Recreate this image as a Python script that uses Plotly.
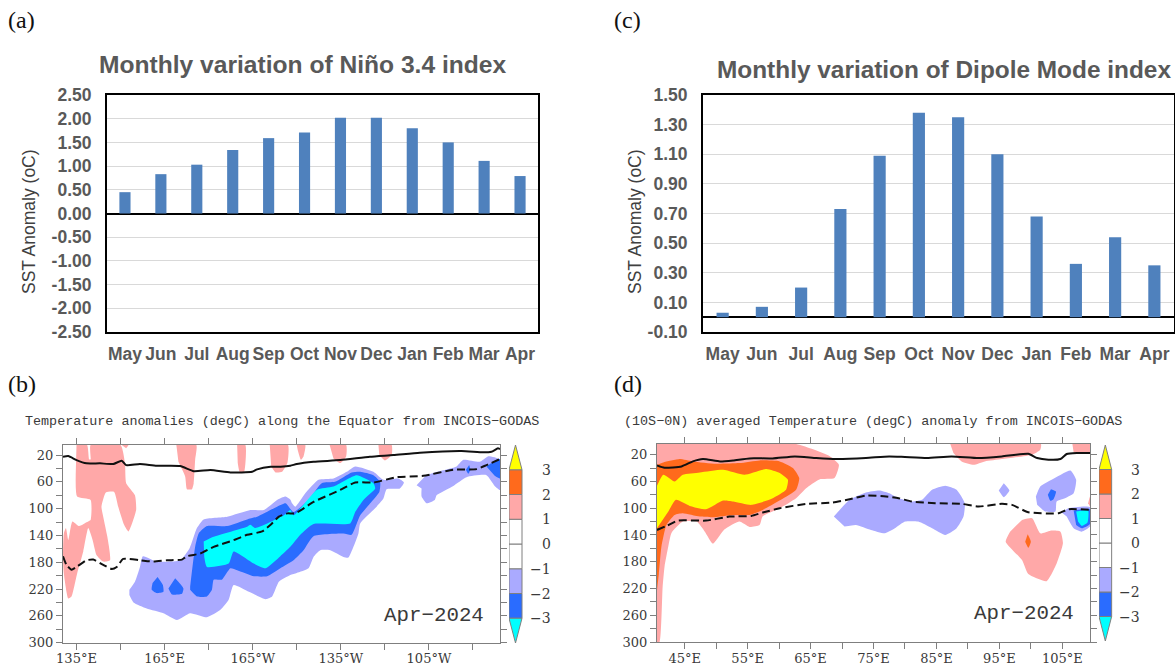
import plotly.graph_objects as go

W = 1175
H = 666

months = ["May", "Jun", "Jul", "Aug", "Sep", "Oct", "Nov", "Dec", "Jan", "Feb", "Mar", "Apr"]

# (a) Nino 3.4
nino_values = [0.45, 0.83, 1.03, 1.34, 1.59, 1.71, 2.02, 2.02, 1.80, 1.50, 1.11, 0.79]
nino_ticks = [2.5, 2.0, 1.5, 1.0, 0.5, 0.0, -0.5, -1.0, -1.5, -2.0, -2.5]
nino_labels = ["2.50", "2.00", "1.50", "1.00", "0.50", "0.00", "-0.50", "-1.00", "-1.50", "-2.00", "-2.50"]

# (c) Dipole mode
dmi_values = [0.03, 0.07, 0.20, 0.73, 1.09, 1.38, 1.35, 1.10, 0.68, 0.36, 0.54, 0.35]
dmi_ticks = [1.5, 1.3, 1.1, 0.9, 0.7, 0.5, 0.3, 0.1, -0.1]
dmi_labels = ["1.50", "1.30", "1.10", "0.90", "0.70", "0.50", "0.30", "0.10", "-0.10"]

# depth axis shared by (b) and (d)
depth_ticks = [20, 40, 60, 80, 100, 120, 140, 160, 180, 200, 220, 240, 260, 280, 300]
depth_labels = ["20", "", "60", "", "100", "", "140", "", "180", "", "220", "", "260", "", "300"]

# (b) equatorial section, longitude runs 0-360
eq_ticks = [135, 150, 165, 180, 195, 210, 225, 240, 255, 270]
eq_labels = ["135°E", "", "165°E", "", "165°W", "", "135°W", "", "105°W", ""]

# (d) 10S-0N section
io_ticks = [45, 50, 55, 60, 65, 70, 75, 80, 85, 90, 95, 100, 105]
io_labels = ["45°E", "", "55°E", "", "65°E", "", "75°E", "", "85°E", "", "95°E", "", "105°E"]

# colour bands
PINK = "#ffa8a8"
ORANGE = "#ff6a1c"
YELLOW = "#ffff00"
LAVENDER = "#aaaaff"
BLUE = "#2a6cff"
CYAN = "#00ffff"

cbar_levels = [-3, -2, -1, 0, 1, 2, 3]
cbar_colors = [BLUE, LAVENDER, "#ffffff", "#ffffff", PINK, ORANGE]
cbar_labels = ["−3", "−2", "−1", "0", "1", "2", "3"]

# (b) isotherms
eq_d20_lon = [130.4, 132.2, 135, 138.4, 143, 147.5, 150.4, 151.9, 156.6, 162.3, 170.3, 174.9, 180.6, 187.4, 194.8, 196.5, 201.1, 204.5, 207.8, 210, 215.7, 224.8, 234.9, 242.9, 251.9, 266.1, 273.5, 276.3, 278.5, 279.2]
eq_d20_depth = [22.5, 21.5, 27.5, 32.4, 32.4, 33.4, 28.5, 35, 33.4, 36, 36.4, 44, 42.4, 46, 45, 41.4, 37.4, 37.4, 36, 33.4, 30, 27.5, 22.5, 20, 16.5, 14, 16, 15, 10, 11]
eq_clim_lon = [130.4, 131.6, 133.3, 135, 138.4, 140.7, 144.1, 147, 148.7, 150.9, 156.6, 161.2, 165.8, 170.9, 172.6, 177.1, 181.7, 188.5, 193.1, 198.2, 201.1, 203.9, 206.8, 209.5, 215.7, 224.8, 229.9, 236.1, 244, 253.1, 263.3, 271.2, 274.6, 279.2]
eq_clim_depth = [171, 184, 191, 187, 177, 176, 184, 190, 187, 175, 177, 179, 177, 176, 171, 167, 157, 147, 139, 134, 124, 112, 107, 107, 90, 72, 61, 61, 53, 51, 42, 41, 35, 26]

# (b) band outlines, longitude then depth
eq_pos1 = [
    ([135, 138.6, 139.3, 139.8, 139.8, 150, 151.5, 151.9, 154.9, 155.3, 152.7, 151.2, 149.2, 147.8, 145, 143.5, 144.1, 145.5, 146.4, 144.1, 141.8, 140.5, 139, 137.3, 135.2, 133.3, 132.2, 130.7, 130.4, 130.7, 131.4, 132.2, 133.6, 135.9, 138.6, 139.8, 139.8, 135.2, 134.8],
     [5, 5, 26.5, 26.5, 5, 5, 32, 62, 80, 102, 134, 124, 97, 75, 76, 97, 112, 142, 177, 179, 169, 147, 129, 164, 197, 231, 234, 197, 172, 137, 129, 147, 119, 126, 120, 117, 87, 82, 37]),
    ([150.4, 152.7, 151.9], [5, 5, 10]),
    ([169, 175.8, 175.4, 174.9, 174.3, 172.6, 172, 169.7], [5, 5, 27, 62, 71, 71, 52, 30]),
    ([189.7, 192.5, 192, 190.6, 189.9], [5, 5, 46, 46, 32]),
    ([200.8, 207, 206.8, 205, 202.8, 201.3], [5, 5, 32, 45, 46, 37]),
    ([210, 212.9, 212.3, 211.4, 210.3], [5, 5, 22, 27, 12]),
    ([221.2, 226.8, 226.8, 224.8, 222.5], [5, 5, 22, 32, 25]),
    ([237.8, 242.3, 242.3, 240, 238.1], [5, 5, 20, 28, 20]),
]
eq_neg1 = [
    ([153, 154.9, 156.6, 157.6, 162.3, 170.3, 173.5, 176, 178.3, 186.3, 194.2, 198.8, 203.3, 206.2, 207.9, 208.4, 209.5, 212.9, 217.4, 222.5, 227, 229.9, 236.1, 239.5, 244.6, 246.5, 245.1, 240.6, 239.5, 237.2, 231.6, 231, 229.3, 227.6, 225.9, 221.4, 218, 215.7, 214, 210, 207.8, 203.9, 201.6, 199.4, 193.7, 188.5, 186.8, 184, 179.4, 173.7, 169.2, 164.6, 158.9, 154.4, 153],
     [221, 209, 187, 171, 179, 177, 159, 129, 116, 112, 102, 102, 87, 82, 87, 92, 97, 77, 57, 55, 45, 37, 45, 57, 55, 61, 70, 71, 85, 97, 122, 137, 157, 173, 172, 162, 162, 172, 189, 196, 199, 209, 231, 235, 224, 214, 236, 251, 262, 256, 266, 256, 249, 240, 229]),
    ([250.8, 254.2, 258.7, 264.4, 266.7, 272.3, 275.1, 279.2, 279.2, 277.4, 274.6, 267.8, 263.3, 257.6, 257, 254.2, 252.5, 252.5],
     [65, 50, 44, 37, 27, 30, 22, 27, 72, 66, 50, 53, 66, 80, 87, 92, 82, 70]),
]
eq_neg2 = [
    ([173.7, 175.4, 176.6, 179.4, 186.3, 193.1, 196.5, 203.3, 206.2, 208.9, 214, 218.5, 223, 228.7, 231.6, 236.1, 238.4, 238.1, 235, 231.6, 228.7, 225.9, 215.7, 212.3, 208.9, 204.4, 199.9, 195.4, 189.7, 187.4, 184.5, 181.7, 181.1, 179.4, 176, 173.7],
     [216, 157, 137, 126, 126, 116, 112, 97, 92, 105, 87, 62, 60, 46, 45, 50, 60, 75, 92, 110, 139, 137, 141, 162, 177, 189, 201, 201, 192, 189, 206, 206, 221, 231, 231, 221]),
    ([162.6, 164.4, 164.6, 162.3, 160.6, 160.9], [202, 214, 224, 226, 221, 211]),
    ([168.6, 171.4, 170.9, 167.5, 166.3], [204, 219, 227, 228, 219]),
    ([268.7, 269.1, 268.4, 267.6], [35, 42, 48, 42]),
    ([274.6, 278, 279.2, 279.2, 277.4], [37, 27, 26, 55, 51]),
]
eq_neg3 = [
    ([178.3, 181.7, 193.1, 194.2, 195.9, 205.6, 207.8, 208.9, 216.8, 222.5, 230.4, 236.1, 236.7, 232.7, 229.9, 228.2, 215.7, 211.2, 207.8, 204.4, 199.4, 195.4, 188.5, 186.8, 179.4, 178.5],
     [149, 142, 127, 124, 129, 110, 102, 110, 72, 67, 50, 62, 70, 87, 105, 122, 123, 139, 157, 171, 189, 182, 164, 182, 187, 172]),
]

# (d) isotherms
io_d20_lon = [40.6, 41.8, 44.5, 46.3, 47.9, 50.6, 52.7, 55.3, 59, 62.5, 65.9, 69.1, 73.8, 77.5, 80, 83.5, 87.4, 91.7, 95.4, 99.6, 101, 102.8, 104.7, 105.7, 107.3, 109.4]
io_d20_depth = [36, 39.5, 37.5, 30, 26.5, 30, 28.5, 25.5, 25.5, 22.5, 25, 26.5, 25, 22.5, 23.5, 25, 22.5, 25, 22.5, 18.5, 25, 27.5, 26.5, 19, 17.5, 17.5]
io_clim_lon = [40.6, 42.1, 43.9, 48.4, 52.1, 55.6, 57.4, 60.1, 64.3, 68.5, 71.2, 73.8, 77, 79, 81.1, 84.8, 89, 91.7, 95.4, 97, 99.6, 104.4, 106, 109.4]
io_clim_depth = [132.5, 126.5, 118.5, 118.5, 112.5, 111.5, 106.5, 100, 93.5, 91.5, 86.5, 81, 82.5, 85, 90, 92.5, 93.5, 97.5, 93.5, 95, 106, 107.5, 101.5, 102.5]

# (d) band outlines
io_pos1 = [
    ([40.6, 62.7, 65.4, 68, 69.5, 68.8, 66.4, 64.3, 62.7, 60.1, 57.4, 56.9, 55.3, 53.7, 51.3, 49.5, 48.2, 46.9, 44.7, 42.9, 42.4, 41.8, 41.5, 41, 40.6],
     [4, 4, 12, 22, 35, 55, 57, 70, 85, 100, 112, 125, 128, 120, 132, 153, 135, 120, 120, 137, 157, 187, 217, 300, 300]),
    ([87.2, 101.6, 101.5, 100.2, 95.4, 92.7, 90.9, 89, 87.7], [4, 4, 12.5, 20, 26.5, 30, 35, 30, 17.5]),
    ([106.6, 109.4, 109.4, 106.8], [4, 4, 17.5, 16.5]),
    ([109.1, 109.4, 109.4], [92.5, 82.5, 97.5]),
    ([98.6, 100.2, 101.5, 103.1, 104.7, 105.1, 104.1, 102.5, 99.6, 98.6, 96, 96.7],
     [117.5, 115, 137.5, 133.5, 135, 152.5, 182.5, 209, 198.5, 177.5, 150, 135]),
]
io_pos2 = [
    ([40.6, 41.6, 44.2, 46.3, 50, 53.7, 56.9, 60.1, 62.2, 63.2, 62.7, 60.3, 57.4, 55.3, 52.7, 49.5, 47.4, 44.7, 43.4, 42.1, 41.3, 40.9, 40.6],
     [35, 31.5, 26.5, 30, 33.5, 32.5, 28.5, 30, 40, 55, 72.5, 87.5, 102.5, 110, 110, 113.5, 112.5, 107.5, 110, 125, 157.5, 197.5, 222.5]),
    ([99.5, 100, 99.6, 99.1], [139, 150, 159, 150]),
]
io_pos3 = [
    ([40.6, 41.6, 43.4, 44.7, 47.4, 51.1, 54.5, 58, 60.1, 61.4, 61.1, 59, 55.6, 52.7, 51.1, 48.4, 45.8, 43.6, 42.4, 40.6],
     [66.5, 50, 60, 50, 46.5, 42.5, 50, 41.5, 47.5, 57.5, 72.5, 85, 95, 90, 88.5, 101.5, 96.5, 87.5, 105, 130]),
]
io_neg1 = [
    ([68.7, 71.2, 73.8, 75.9, 77.5, 79, 81.1, 82.7, 84.3, 86.4, 88.2, 89.5, 89.3, 88.2, 86.4, 84.3, 82.1, 80, 78.4, 76.8, 74.6, 72.2, 70.4],
     [112.5, 87.5, 76.5, 73.5, 77.5, 85, 90, 87.5, 72.5, 66.5, 72.5, 92.5, 112.5, 130, 140, 130, 120, 120, 130, 137.5, 132.5, 125, 127.5]),
    ([95.7, 96.6, 95.7, 94.9], [62.5, 73.5, 83.5, 73.5]),
    ([100.8, 101.5, 103.3, 106.3, 107.2, 106.8, 105.2, 104.1, 103.9, 102.3, 101],
     [82.5, 67.5, 57.5, 43.5, 57.5, 77.5, 86, 90, 105, 105, 95]),
    ([104.9, 106, 109.4, 109.4, 108.1, 106.8, 105.7], [106.5, 100, 98.5, 127.5, 135, 130, 112.5]),
]
io_neg2 = [
    ([103.2, 104, 103.6, 103.1, 102.7], [71.5, 75, 86.5, 89, 80]),
    ([106.8, 109.4, 109.4, 108.1, 107.2], [103.5, 101.5, 123.5, 130, 125]),
]
io_neg3 = [
    ([107.2, 109.1, 109, 108.1, 107.5], [105, 103.5, 121.5, 126.5, 120]),
]

GREY_TEXT = "#595959"
AXIS_GREY = "#7f7f7f"
NCL_TEXT = "#3a3a3a"


def xdom(left, right):
    return [left / W, right / W]


def ydom(top, bottom):
    return [1 - bottom / H, 1 - top / H]


def note(text, x, y, font, size, color, angle=0, anchor="center"):
    return dict(
        text=text, x=x / W, y=1 - y / H, xref="paper", yref="paper",
        xanchor=anchor, yanchor="middle", showarrow=False, textangle=angle,
        font=dict(family=font, size=size, color=color)
    )


fig = go.Figure()


def add_bars(values, xa, ya):
    fig.add_trace(go.Bar(
        x=months, y=values, xaxis=xa, yaxis=ya,
        marker=dict(color="#4f81bd", line=dict(width=0)),
        width=0.31, showlegend=False
    ))


def add_bands(bands, color, xa, ya):
    for lon, depth in bands:
        fig.add_trace(go.Scatter(
            x=lon, y=depth, xaxis=xa, yaxis=ya, mode="lines", fill="toself",
            fillcolor=color, line=dict(width=0, shape="spline", smoothing=0.5),
            showlegend=False, hoverinfo="skip"
        ))


def add_isotherm(lon, depth, dash, xa, ya):
    fig.add_trace(go.Scatter(
        x=lon, y=depth, xaxis=xa, yaxis=ya, mode="lines",
        line=dict(color="#111111", width=2, dash=dash, shape="spline", smoothing=0.5),
        showlegend=False
    ))


def add_colorbar(xa, ya):
    for i, color in enumerate(cbar_colors):
        fig.add_trace(go.Bar(
            x=[0.5], y=[cbar_levels[i + 1] - cbar_levels[i]], base=cbar_levels[i],
            width=1, xaxis=xa, yaxis=ya, showlegend=False,
            marker=dict(color=color, line=dict(color=AXIS_GREY, width=1))
        ))
    fig.add_trace(go.Scatter(
        x=[0, 1, 0.5, 0], y=[3, 3, 4, 3], xaxis=xa, yaxis=ya, mode="lines", fill="toself",
        fillcolor=YELLOW, line=dict(color=AXIS_GREY, width=1), showlegend=False
    ))
    fig.add_trace(go.Scatter(
        x=[0, 1, 0.5, 0], y=[-3, -3, -4, -3], xaxis=xa, yaxis=ya, mode="lines", fill="toself",
        fillcolor=CYAN, line=dict(color=AXIS_GREY, width=1), showlegend=False
    ))


add_bars(nino_values, "x", "y")
add_bars(dmi_values, "x2", "y2")

add_bands(eq_pos1, PINK, "x3", "y3")
add_bands(eq_neg1, LAVENDER, "x3", "y3")
add_bands(eq_neg2, BLUE, "x3", "y3")
add_bands(eq_neg3, CYAN, "x3", "y3")
add_isotherm(eq_d20_lon, eq_d20_depth, "solid", "x3", "y3")
add_isotherm(eq_clim_lon, eq_clim_depth, "8px,4px", "x3", "y3")

add_bands(io_pos1, PINK, "x4", "y4")
add_bands(io_pos2, ORANGE, "x4", "y4")
add_bands(io_pos3, YELLOW, "x4", "y4")
add_bands(io_neg1, LAVENDER, "x4", "y4")
add_bands(io_neg2, BLUE, "x4", "y4")
add_bands(io_neg3, CYAN, "x4", "y4")
add_isotherm(io_d20_lon, io_d20_depth, "solid", "x4", "y4")
add_isotherm(io_clim_lon, io_clim_depth, "8px,4px", "x4", "y4")

add_colorbar("x5", "y5")
add_colorbar("x6", "y6")

bar_font = dict(family="Liberation Sans", size=17.5, color=GREY_TEXT, weight="bold")
ncl_tick_font = dict(family="DejaVu Serif", size=13, color=NCL_TEXT)


def bar_xaxis(domain, anchor):
    return dict(
        domain=domain, anchor=anchor, type="category", categoryorder="array", automargin=False,
        categoryarray=months, showline=True, mirror=True, linecolor="#000000", linewidth=2,
        showgrid=False, ticks="", tickfont=bar_font, tickangle=0, zeroline=False,
        ticklabelstandoff=5
    )


def bar_yaxis(domain, anchor, rng, tickvals, ticktext):
    return dict(
        domain=domain, anchor=anchor, range=rng, tickvals=tickvals, ticktext=ticktext, automargin=False,
        showline=True, mirror=True, linecolor="#000000", linewidth=2,
        showgrid=True, gridcolor="#d9d9d9", gridwidth=1, ticks="", tickfont=bar_font,
        zeroline=True, zerolinecolor="#000000", zerolinewidth=2, ticklabelstandoff=10
    )


def section_xaxis(domain, anchor, rng, tickvals, ticktext):
    return dict(
        domain=domain, anchor=anchor, range=rng, tickvals=tickvals, ticktext=ticktext, automargin=False,
        showline=True, mirror="allticks", linecolor=AXIS_GREY, linewidth=1,
        ticks="outside", ticklen=6, tickcolor=AXIS_GREY, tickfont=ncl_tick_font,
        tickangle=0, showgrid=False, zeroline=False, ticklabelstandoff=-2
    )


def section_yaxis(domain, anchor, rng):
    return dict(
        domain=domain, anchor=anchor, range=rng, tickvals=depth_ticks, ticktext=depth_labels, automargin=False,
        showline=True, mirror="allticks", linecolor=AXIS_GREY, linewidth=1,
        ticks="outside", ticklen=6, tickcolor=AXIS_GREY, tickfont=ncl_tick_font,
        showgrid=False, zeroline=False
    )


def cbar_xaxis(domain, anchor):
    # the axis runs past the bar so the level labels sit inside its range
    return dict(domain=domain, anchor=anchor, range=[0, 3.4], visible=False, automargin=False)


def cbar_yaxis(domain, anchor):
    return dict(domain=domain, anchor=anchor, range=[-4, 4], visible=False, automargin=False)


annotations = [
    note("(a)", 6, 20, "Liberation Serif", 24, "#111111", anchor="left"),
    note("(b)", 6, 384, "Liberation Serif", 24, "#111111", anchor="left"),
    note("(c)", 612, 20, "Liberation Serif", 24, "#111111", anchor="left"),
    note("(d)", 612, 384, "Liberation Serif", 24, "#111111", anchor="left"),
    note("<b>Monthly variation of Niño 3.4 index</b>", 302.5, 65, "Liberation Sans", 24.6, GREY_TEXT),
    note("<b>Monthly variation of Dipole Mode index</b>", 944, 69, "Liberation Sans", 24.4, GREY_TEXT),
    note("SST Anomaly (oC)", 29, 222, "Liberation Sans", 17.5, "#404040", angle=-90),
    note("SST Anomaly (oC)", 635, 222, "Liberation Sans", 17.5, "#404040", angle=-90),
    note("Temperature anomalies (degC) along the Equator from INCOIS−GODAS", 23, 421, "Liberation Mono", 13.4, NCL_TEXT, anchor="left"),
    note("(10S−0N) averaged Temperature (degC) anomaly from INCOIS−GODAS", 621.5, 421, "Liberation Mono", 13.4, NCL_TEXT, anchor="left"),
    note("Apr−2024", 434, 615, "Liberation Mono", 20.8, NCL_TEXT),
    note("Apr−2024", 1024, 613, "Liberation Mono", 20.8, NCL_TEXT),
]

for xa, ya in (("x5", "y5"), ("x6", "y6")):
    for level, label in zip(cbar_levels, cbar_labels):
        annotations.append(dict(
            text=label, x=3.4, y=level, xref=xa, yref=ya, xanchor="right", yanchor="middle",
            showarrow=False, font=dict(family="DejaVu Serif", size=14, color=NCL_TEXT)
        ))

fig.update_layout(
    width=W,
    height=H,
    margin=dict(l=0, r=0, t=0, b=0),
    paper_bgcolor="#ffffff",
    plot_bgcolor="#ffffff",
    barmode="overlay",
    showlegend=False,
    annotations=annotations,
    xaxis=bar_xaxis(xdom(107, 538), "y"),
    yaxis=bar_yaxis(ydom(95, 332), "x", [-2.5, 2.5], nino_ticks, nino_labels),
    xaxis2=bar_xaxis(xdom(703, 1174), "y2"),
    yaxis2=bar_yaxis(ydom(95, 332), "x2", [-0.1, 1.5], dmi_ticks, dmi_labels),
    xaxis3=section_xaxis(xdom(63, 500), "y3", [130.4, 279.2], eq_ticks, eq_labels),
    yaxis3=section_yaxis(ydom(445, 642.7), "x3", [300, 5]),
    xaxis4=section_xaxis(xdom(657, 1090), "y4", [40.6, 109.4], io_ticks, io_labels),
    yaxis4=section_yaxis(ydom(444, 642), "x4", [300, 4]),
    xaxis5=cbar_xaxis(xdom(509, 553.2), "y5"),
    yaxis5=cbar_yaxis(ydom(445, 643), "x5"),
    xaxis6=cbar_xaxis(xdom(1099, 1142), "y6"),
    yaxis6=cbar_yaxis(ydom(445, 641), "x6"),
)

# the page keeps the browser's default body margin unless told otherwise
fig.write_html("out.html", config={"displayModeBar": False}, post_script="document.body.style.margin='0';")
